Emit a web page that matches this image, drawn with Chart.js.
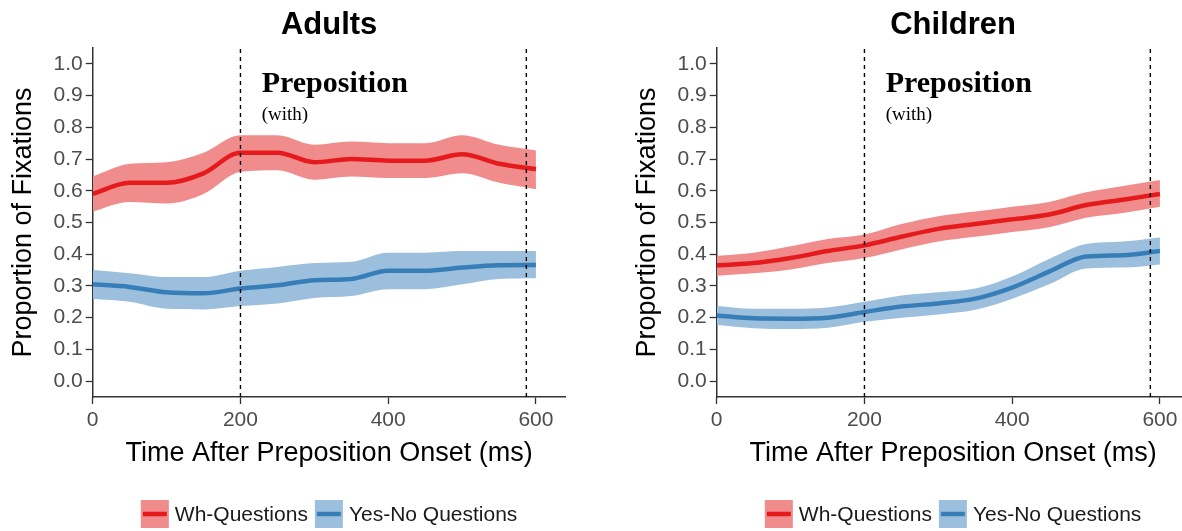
<!DOCTYPE html>
<html>
<head>
<meta charset="utf-8">
<script src="https://cdn.jsdelivr.net/npm/chart.js@4.4.1/dist/chart.umd.min.js"></script>
<style>
  html, body { margin: 0; padding: 0; background: #fff; overflow: hidden; width: 1182px; height: 531px; }
  canvas { position: absolute; top: 0; }
  #adults { left: 0; }
  #children { left: 624px; }
</style>
</head>
<body>
<canvas id="adults" width="600" height="531"></canvas>
<canvas id="children" width="600" height="531"></canvas>
<script>
// time bins (ms after preposition onset)
const timeMs = [0, 50, 100, 150, 200, 250, 300, 350, 400, 450, 500, 550, 600];

// Adults
const adultsWh      = [0.590, 0.625, 0.625, 0.655, 0.720, 0.720, 0.690, 0.700, 0.695, 0.695, 0.715, 0.685, 0.668];
const adultsWhUpper = [0.645, 0.685, 0.690, 0.720, 0.775, 0.775, 0.745, 0.755, 0.750, 0.750, 0.775, 0.745, 0.727];
const adultsWhLower = [0.535, 0.565, 0.560, 0.590, 0.660, 0.665, 0.635, 0.645, 0.640, 0.640, 0.655, 0.625, 0.605];
const adultsYn      = [0.305, 0.297, 0.280, 0.277, 0.292, 0.302, 0.318, 0.322, 0.348, 0.348, 0.358, 0.365, 0.366];
const adultsYnUpper = [0.350, 0.340, 0.328, 0.328, 0.348, 0.360, 0.372, 0.376, 0.405, 0.405, 0.410, 0.410, 0.410];
const adultsYnLower = [0.260, 0.250, 0.228, 0.226, 0.237, 0.245, 0.262, 0.268, 0.290, 0.290, 0.305, 0.322, 0.324];

// Children
const childrenWh      = [0.365, 0.372, 0.388, 0.410, 0.428, 0.455, 0.480, 0.495, 0.510, 0.525, 0.555, 0.572, 0.590];
const childrenWhUpper = [0.395, 0.405, 0.425, 0.448, 0.462, 0.495, 0.520, 0.535, 0.550, 0.565, 0.595, 0.615, 0.634];
const childrenWhLower = [0.332, 0.340, 0.352, 0.372, 0.388, 0.415, 0.440, 0.455, 0.470, 0.485, 0.515, 0.530, 0.550];
const childrenYn      = [0.207, 0.198, 0.197, 0.200, 0.218, 0.235, 0.245, 0.260, 0.295, 0.345, 0.393, 0.397, 0.410];
const childrenYnUpper = [0.237, 0.228, 0.228, 0.232, 0.250, 0.270, 0.280, 0.292, 0.330, 0.385, 0.432, 0.440, 0.453];
const childrenYnLower = [0.177, 0.167, 0.164, 0.168, 0.187, 0.200, 0.210, 0.225, 0.260, 0.305, 0.355, 0.358, 0.368];

const xTicks = [0, 200, 400, 600];
const yTicks = [0, 0.1, 0.2, 0.3, 0.4, 0.5, 0.6, 0.7, 0.8, 0.9, 1.0];
const markerTimes = [200, 587];   // dashed region boundaries
const seriesNames = ['Wh-Questions', 'Yes-No Questions'];

const RED = '#E41A1C', RED_BAND = '#F18C8D';
const BLUE = '#377EB8', BLUE_BAND = '#9BBFDC';
const SANS = '"Liberation Sans", Arial, sans-serif';
const SERIF = '"Liberation Serif", "Times New Roman", serif';

const pts = arr => timeMs.map((t, i) => ({ x: t, y: arr[i] }));

// panel title, centred over the plot area like ggplot
const panelTitle = {
  id: 'panelTitle',
  afterDraw(chart, args, opts) {
    const { ctx, chartArea } = chart;
    ctx.save();
    ctx.fillStyle = '#000';
    ctx.font = 'bold 31px ' + SANS;
    ctx.textAlign = 'center';
    ctx.textBaseline = 'alphabetic';
    ctx.fillText(opts.text, (chartArea.left + chartArea.right) / 2, 34);
    ctx.restore();
  }
};

// legend like ggplot: filled key with line through it
const bandLegend = {
  id: 'bandLegend',
  afterDraw(chart) {
    const { ctx, chartArea } = chart;
    const items = [
      { name: seriesNames[0], band: RED_BAND, line: RED },
      { name: seriesNames[1], band: BLUE_BAND, line: BLUE }
    ];
    ctx.save();
    ctx.font = '21px ' + SANS;
    const box = 28, gapText = 6, gapItem = 7;
    const widths = items.map(it => ctx.measureText(it.name).width);
    const total = items.length * (box + gapText) + widths[0] + widths[1] + gapItem;
    let x = (chartArea.left + chartArea.right) / 2 - total / 2;
    const top = 500;
    items.forEach((it, i) => {
      ctx.fillStyle = it.band;
      ctx.fillRect(x, top, box, box);
      ctx.strokeStyle = it.line;
      ctx.lineWidth = 4.5;
      ctx.beginPath();
      ctx.moveTo(x + 2, top + box / 2);
      ctx.lineTo(x + box - 2, top + box / 2);
      ctx.stroke();
      x += box + gapText;
      ctx.fillStyle = '#1a1a1a';
      ctx.textBaseline = 'middle';
      ctx.textAlign = 'left';
      ctx.fillText(it.name, x, top + box / 2 + 1);
      x += widths[i] + gapItem;
    });
    ctx.restore();
  }
};

// "Preposition (with)" label in the region
const regionLabel = {
  id: 'regionLabel',
  afterDraw(chart) {
    const { ctx, chartArea } = chart;
    const x = chartArea.left + 169;
    ctx.save();
    ctx.fillStyle = '#000';
    ctx.textAlign = 'left';
    ctx.textBaseline = 'alphabetic';
    ctx.font = 'bold 30px ' + SERIF;
    ctx.fillText('Preposition', x, 92);
    ctx.font = '19px ' + SERIF;
    ctx.fillText('(with)', x, 120);
    ctx.restore();
  }
};

function makePanel(id, title, wh, whUp, whLo, yn, ynUp, ynLo) {
  const band = (data, color, fill) => ({
    data: pts(data), borderWidth: 0, pointRadius: 0, fill: fill,
    backgroundColor: color, cubicInterpolationMode: 'monotone', order: 3
  });
  const line = (data, color) => ({
    data: pts(data), borderColor: color, borderWidth: 4.5, pointRadius: 0,
    fill: false, cubicInterpolationMode: 'monotone', order: 1
  });
  const marker = t => ({
    data: [{ x: t, y: -0.05 }, { x: t, y: 1.05 }], borderColor: '#000', borderWidth: 1.4,
    borderDash: [4, 4], pointRadius: 0, fill: false, order: 0
  });

  return new Chart(document.getElementById(id), {
    type: 'line',
    data: {
      datasets: [
        band(whUp, RED_BAND, '+1'),
        band(whLo, RED_BAND, false),
        band(ynUp, BLUE_BAND, '+1'),
        band(ynLo, BLUE_BAND, false),
        line(wh, RED),
        line(yn, BLUE),
        ...markerTimes.map(marker)
      ]
    },
    options: {
      responsive: false,
      animation: false,
      devicePixelRatio: 1,
      layout: { padding: { left: 0, right: 34.5, top: 48, bottom: 0 } },
      plugins: {
        legend: { display: false },
        tooltip: { enabled: false },
        title: { display: false },
        panelTitle: { text: title }
      },
      scales: {
        x: {
          type: 'linear', min: 0, max: 640,
          afterBuildTicks: s => { s.ticks = xTicks.map(v => ({ value: v })); },
          afterFit: s => { s.height = 134; },
          grid: { drawOnChartArea: false, tickLength: 7, tickColor: '#333', tickWidth: 1.3 },
          border: { color: '#333', width: 1.5 },
          ticks: { font: { family: SANS, size: 21 }, color: '#4d4d4d', padding: 4, maxRotation: 0 },
          title: {
            display: true, text: 'Time After Preposition Onset (ms)', color: '#000',
            font: { family: SANS, size: 27 }, padding: { top: 0, bottom: 61 }
          }
        },
        y: {
          min: -0.05, max: 1.05,
          afterBuildTicks: s => { s.ticks = yTicks.map(v => ({ value: v })); },
          afterFit: s => { s.width = 92.7; },
          grid: { drawOnChartArea: false, tickLength: 7, tickColor: '#333', tickWidth: 1.3 },
          border: { color: '#333', width: 1.5 },
          ticks: { font: { family: SANS, size: 21 }, color: '#4d4d4d', padding: 3, callback: v => v.toFixed(1) },
          title: {
            display: true, text: 'Proportion of Fixations', color: '#000',
            font: { family: SANS, size: 27 }, padding: { top: 7, bottom: 0 }
          }
        }
      }
    },
    plugins: [panelTitle, bandLegend, regionLabel]
  });
}

makePanel('adults', 'Adults', adultsWh, adultsWhUpper, adultsWhLower, adultsYn, adultsYnUpper, adultsYnLower);
makePanel('children', 'Children', childrenWh, childrenWhUpper, childrenWhLower, childrenYn, childrenYnUpper, childrenYnLower);
</script>
</body>
</html>
